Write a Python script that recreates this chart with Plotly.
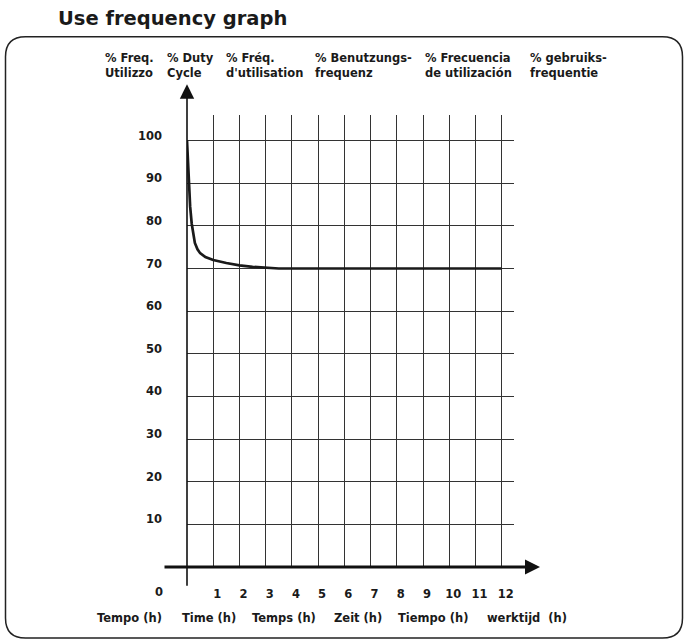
import plotly.graph_objects as go

# ---- data ----
hours = list(range(1, 13))
hour_labels = [str(h) for h in hours]
duty_ticks = list(range(10, 101, 10))
duty_labels = [str(v) for v in duty_ticks]

curve_time = [0, 0.03, 0.07, 0.12, 0.18, 0.24, 0.3, 0.4, 0.5, 0.7, 1.0, 1.5, 2.0, 2.5, 3.0, 3.5, 12]
curve_duty = [100, 95, 90, 84.5, 80.5, 77.8, 76.0, 74.5, 73.6, 72.7, 72.0, 71.3, 70.75, 70.4, 70.15, 70, 70]

top_labels = ["% Freq.<br>Utilizzo", "% Duty<br>Cycle", "% Fréq.<br>d'utilisation",
              "% Benutzungs-<br>frequenz", "% Frecuencia<br>de utilización",
              "% gebruiks-<br>frequentie"]
bottom_labels = ["Tempo (h)", "Time (h)", "Temps (h)", "Zeit (h)", "Tiempo (h)", "werktijd  (h)"]
title_text = "Use frequency graph"

# ---- layout constants ----
W, H = 684, 640
ML, MR, MT, MB = 187, 170, 115, 73
PW, PH = W - ML - MR, H - MT - MB
FONT = "DejaVu Sans"
INK = "#1a1a1a"
LBL = dict(family=FONT, size=11.5, color=INK, weight="bold")


def px(p):
    return (p - ML) / PW


def py(p):
    return (H - MB - p) / PH


fig = go.Figure()
fig.add_trace(go.Scatter(
    x=curve_time, y=curve_duty, mode="lines",
    line=dict(color=INK, width=2.7),
    hoverinfo="skip", showlegend=False))

fig.update_layout(
    width=W, height=H,
    margin=dict(l=ML, r=MR, t=MT, b=MB, pad=0),
    paper_bgcolor="white", plot_bgcolor="white",
    showlegend=False,
    font=dict(family=FONT, color=INK, size=12),
)
fig.update_xaxes(
    range=[0, 12.47], tickvals=hours, ticktext=hour_labels,
    showgrid=True, gridcolor="#333", gridwidth=1,
    zeroline=False, showline=False, ticks="",
    ticklabelstandoff=18, ticklabelshift=4,
    tickfont=LBL, fixedrange=True,
)
fig.update_yaxes(
    range=[0, 106], tickvals=duty_ticks, ticktext=duty_labels,
    showgrid=True, gridcolor="#333", gridwidth=1,
    zeroline=False, showline=False, ticks="",
    ticklabelstandoff=24, ticklabelshift=-5,
    tickfont=LBL, fixedrange=True,
)

ann = []
# axis arrows
ann.append(dict(x=px(540), y=py(567), xref="paper", yref="paper", ax=163 - 540, ay=0,
                showarrow=True, arrowhead=2, arrowwidth=3, arrowsize=1.0,
                arrowcolor="#111", text=""))
ann.append(dict(x=px(187), y=py(84.3), xref="paper", yref="paper", ax=0, ay=587.3 - 84.3,
                showarrow=True, arrowhead=2, arrowwidth=1.6, arrowsize=1.8,
                arrowcolor="#111", text=""))
# origin label
ann.append(dict(x=px(159.3), y=py(592.3), xref="paper", yref="paper", text="0",
                showarrow=False, xanchor="center", yanchor="middle", font=LBL))
# title
ann.append(dict(x=px(56), y=py(18), xref="paper", yref="paper", text=title_text,
                showarrow=False, xanchor="left", yanchor="middle",
                font=dict(family=FONT, size=19.5, color=INK, weight="bold")))
# top labels
top_x = [103.3, 165, 224.3, 312.7, 423.3, 528.3]
for t, xp in zip(top_labels, top_x):
    ann.append(dict(x=px(xp), y=py(65.5), xref="paper", yref="paper", text=t,
                    showarrow=False, xanchor="left", yanchor="middle", align="left",
                    font=LBL))
# bottom labels
bot_x = [95, 180, 250, 331.7, 395.7, 485]
for t, xp in zip(bottom_labels, bot_x):
    ann.append(dict(x=px(xp), y=py(618.3), xref="paper", yref="paper", text=t,
                    showarrow=False, xanchor="left", yanchor="middle", font=LBL))
fig.update_layout(annotations=ann)

# rounded frame
L, R, T, B, r = 5.5, 682.5, 36.7, 638.0, 20
path = (f"M {px(L+r)},{py(T)} L {px(R-r)},{py(T)} Q {px(R)},{py(T)} {px(R)},{py(T+r)} "
        f"L {px(R)},{py(B-r)} Q {px(R)},{py(B)} {px(R-r)},{py(B)} "
        f"L {px(L+r)},{py(B)} Q {px(L)},{py(B)} {px(L)},{py(B-r)} "
        f"L {px(L)},{py(T+r)} Q {px(L)},{py(T)} {px(L+r)},{py(T)} Z")
fig.add_shape(type="path", path=path, xref="paper", yref="paper",
              line=dict(color="#222", width=1.5), layer="below")

fig.write_html("out.html", config={"displayModeBar": False},
               post_script="document.body.style.margin='0';document.body.style.overflow='hidden';")
